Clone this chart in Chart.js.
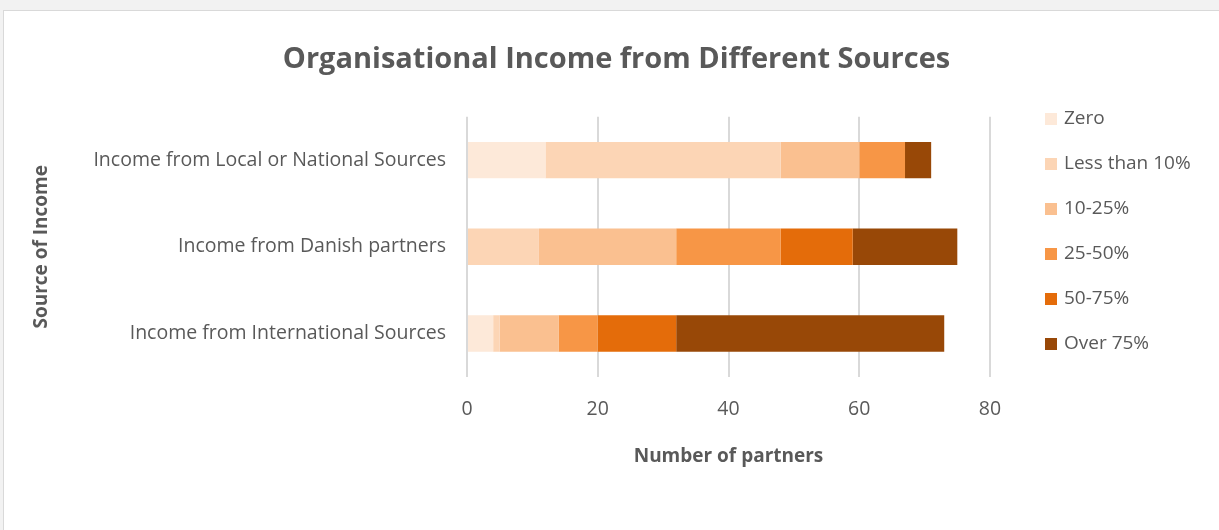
<!DOCTYPE html>
<html>
<head>
<meta charset="utf-8">
<script src="https://cdn.jsdelivr.net/npm/chart.js@4"></script>
<style>
  html, body { margin: 0; padding: 0; background: #f2f2f2; overflow: hidden; }
  #frame {
    position: absolute; left: 3px; top: 10px; width: 1230px; height: 530px;
    background: #ffffff; border: 1px solid #d9d9d9;
  }
  #wrap { position: absolute; left: 0; top: 0; width: 1219px; height: 530px; }
  #legend {
    position: absolute; left: 1045px; top: 95px; margin: 0; padding: 0; list-style: none;
    font-family: 'Open Sans', sans-serif; font-size: 19px; color: #595959;
  }
  #legend li { height: 45px; line-height: 45px; white-space: nowrap; }
  #legend span.box { display: inline-block; width: 12px; height: 12px; margin-right: 7px; vertical-align: -1px; }
</style>
</head>
<body>
<div id="frame"></div>
<div id="wrap"><canvas id="incomeChart"></canvas></div>
<ul id="legend"></ul>
<script>
/* Income share bands per source, counted in partners */
const sources = [
    "Income from Local or National Sources",
    "Income from Danish partners",
    "Income from International Sources"
];
const bands = ["Zero", "Less than 10%", "10-25%", "25-50%", "50-75%", "Over 75%"];
const zero = [12, 0, 4];
const lessThan10 = [36, 11, 1];
const from10to25 = [12, 21, 9];
const from25to50 = [7, 16, 6];
const from50to75 = [0, 11, 12];
const over75 = [4, 16, 41];
const bandColours = ["#fde9d9", "#fcd5b5", "#fac090", "#f79646", "#e46c0a", "#984807"];
const xTicks = [0, 20, 40, 60, 80];

const bandValues = [zero, lessThan10, from10to25, from25to50, from50to75, over75];
const textColour = "#595959";
const fontFamily = "'Open Sans', sans-serif";

const chart = new Chart(document.getElementById('incomeChart'), {
    type: "bar",
    data: {
        labels: sources,
        datasets: bands.map((band, i) => ({
            label: band,
            data: bandValues[i],
            backgroundColor: bandColours[i],
            barPercentage: 0.42,
            categoryPercentage: 1
        }))
    },
    options: {
        indexAxis: "y",
        responsive: true,
        maintainAspectRatio: false,
        animation: false,
        layout: { padding: { top: 42, left: 30, right: 16, bottom: 62 } },
        plugins: {
            title: {
                display: true,
                text: "Organisational Income from Different Sources",
                color: textColour,
                font: { family: fontFamily, size: 29, weight: "bold" },
                padding: { top: 0, bottom: 40 }
            },
            legend: { display: false },
            tooltip: { enabled: false }
        },
        scales: {
            x: {
                stacked: true,
                min: 0,
                max: 80,
                afterBuildTicks: axis => { axis.ticks = xTicks.map(v => ({ value: v })); },
                grid: { color: "#d9d9d9", lineWidth: 2, drawTicks: false },
                border: { display: false },
                ticks: {
                    color: textColour,
                    padding: 21,
                    font: { family: fontFamily, size: 19.5 }
                },
                title: {
                    display: true,
                    text: "Number of partners",
                    color: textColour,
                    font: { family: fontFamily, size: 19, weight: "bold" },
                    padding: { top: 3, bottom: 0 }
                }
            },
            y: {
                stacked: true,
                afterFit: axis => { axis.width = 437; },
                grid: { display: false, drawTicks: false },
                border: { display: false },
                ticks: {
                    color: textColour,
                    padding: 21,
                    font: { family: fontFamily, size: 19.5 }
                },
                title: {
                    display: true,
                    text: "Source of Income",
                    color: textColour,
                    font: { family: fontFamily, size: 19, weight: "bold" },
                    padding: { top: 0, bottom: 0 }
                }
            },
            // empty right-hand axis, only keeps room for the legend list
            legendGutter: {
                type: "category",
                position: "right",
                display: true,
                afterFit: axis => { axis.width = 213; },
                grid: { display: false, drawTicks: false },
                border: { display: false },
                ticks: { display: false }
            }
        }
    }
});

// legend list built from the chart's datasets
const legendList = document.getElementById('legend');
chart.data.datasets.forEach(ds => {
    const item = document.createElement('li');
    const box = document.createElement('span');
    box.className = 'box';
    box.style.background = ds.backgroundColor;
    item.appendChild(box);
    item.appendChild(document.createTextNode(ds.label));
    legendList.appendChild(item);
});
</script>
</body>
</html>
